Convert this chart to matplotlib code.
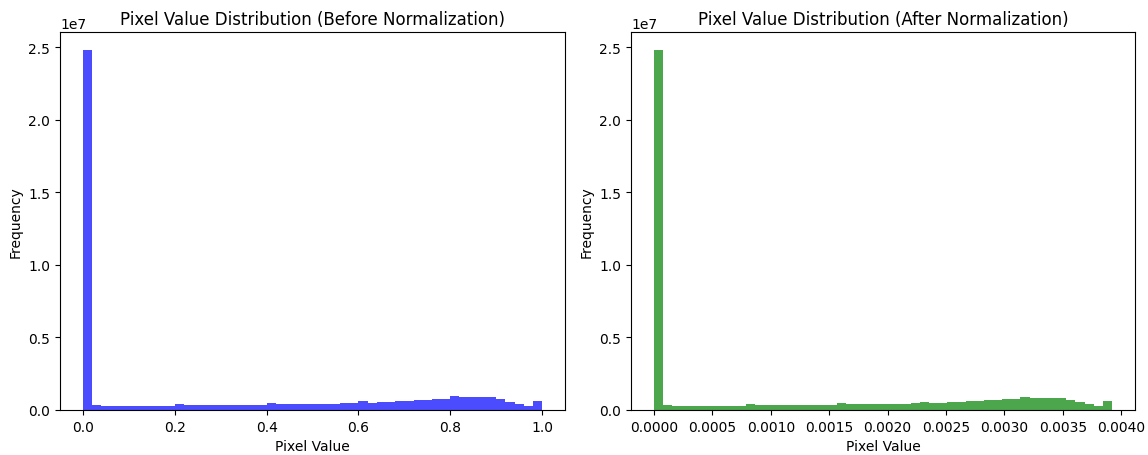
import numpy as np
from matplotlib import pyplot as plt

# conteggi per bin (50 bin)
counts_before = [24.8e6, 344e3, 253e3, 253e3, 253e3, 253e3, 253e3, 253e3, 253e3, 253e3,
                 390e3, 321e3, 321e3, 321e3, 321e3, 321e3, 321e3, 321e3, 321e3, 321e3,
                 459e3, 385e3, 385e3, 385e3, 385e3, 385e3, 385e3, 380e3, 459e3, 459e3,
                 597e3, 482e3, 528e3, 528e3, 597e3, 597e3, 689e3, 689e3, 735e3, 735e3,
                 941e3, 872e3, 872e3, 872e3, 872e3, 735e3, 528e3, 413e3, 253e3, 643e3]

counts_after = [24.8e6, 344e3, 253e3, 253e3, 253e3, 253e3, 253e3, 253e3, 253e3, 253e3,
                390e3, 321e3, 321e3, 321e3, 321e3, 321e3, 321e3, 321e3, 321e3, 321e3,
                459e3, 385e3, 385e3, 385e3, 385e3, 385e3, 385e3, 380e3, 459e3, 528e3,
                482e3, 482e3, 528e3, 528e3, 597e3, 597e3, 666e3, 666e3, 735e3, 735e3,
                918e3, 850e3, 850e3, 850e3, 850e3, 713e3, 528e3, 413e3, 253e3, 643e3]

max_before = 1.0
max_after = 1.0 / 255

edges_before = np.linspace(0, max_before, len(counts_before) + 1)
edges_after = np.linspace(0, max_after, len(counts_after) + 1)

fig = plt.figure(figsize=(11.48, 4.56), dpi=100)
ax1 = fig.add_axes([0.0523, 0.0987, 0.4399, 0.829])
ax2 = fig.add_axes([0.5497, 0.0987, 0.4390, 0.829])

ax1.hist(edges_before[:-1], bins=edges_before, weights=counts_before, color='blue', alpha=0.7)
ax1.set_title("Pixel Value Distribution (Before Normalization)")
ax1.set_xlabel("Pixel Value")
ax1.set_ylabel("Frequency")

ax2.hist(edges_after[:-1], bins=edges_after, weights=counts_after, color='green', alpha=0.7)
ax2.set_title("Pixel Value Distribution (After Normalization)")
ax2.set_xlabel("Pixel Value")
ax2.set_ylabel("Frequency")

plt.savefig("out.png", dpi=100)
